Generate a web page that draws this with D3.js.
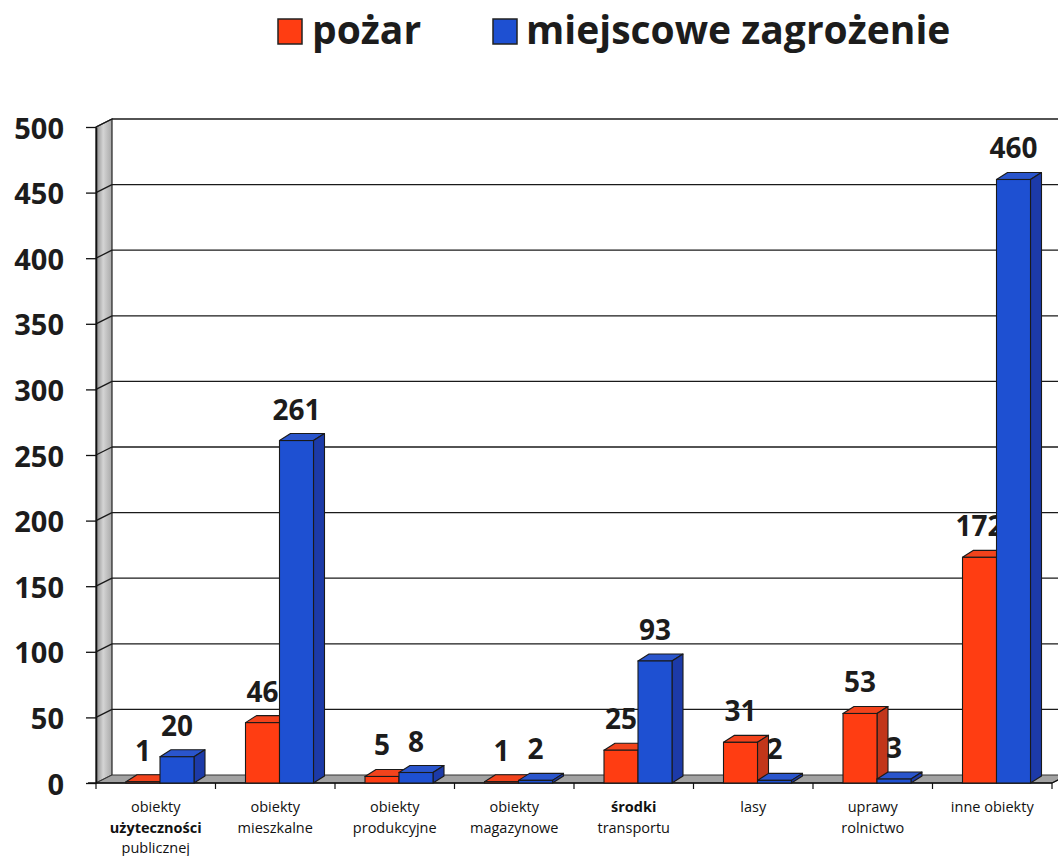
<!DOCTYPE html>
<html><head><meta charset="utf-8">
<script src="https://cdn.jsdelivr.net/npm/d3@7/dist/d3.min.js"></script>
<style>
html,body{margin:0;padding:0;background:#fff;}
svg{display:block;}
</style></head>
<body>
<svg id="chart" width="1058" height="856"></svg>
<script>
const categories = ["obiekty użyteczności publicznej","obiekty mieszkalne","obiekty produkcyjne","obiekty magazynowe","środki transportu","lasy","uprawy rolnictwo","inne obiekty"];
const categoryLines = [["obiekty","użyteczności","publicznej"],["obiekty","mieszkalne"],["obiekty","produkcyjne"],["obiekty","magazynowe"],["środki","transportu"],["lasy"],["uprawy","rolnictwo"],["inne obiekty"]];
const boldWords = ["użyteczności","środki"];
const seriesNames = ["pożar","miejscowe zagrożenie"];
const pozar = [1,46,5,1,25,31,53,172];
const zagrozenie = [20,261,8,2,93,2,3,460];
const yTicks = [0,50,100,150,200,250,300,350,400,450,500];

const colors = {
  "pożar": {front:"#ff3d12", top:"#f2431c", side:"#c2361a"},
  "miejscowe zagrożenie": {front:"#1e50d2", top:"#2a55cc", side:"#1c3aa8"}
};
const seriesValues = {"pożar": pozar, "miejscowe zagrożenie": zagrozenie};

const svg = d3.select("#chart");
const FONT = "'Open Sans', 'DejaVu Sans', sans-serif";
const TXT = "#1c1c1c";

const x0 = 96, x1p = 1052, yBase = 783, yTop = 127;
const wdx = 16, wdy = -8;   // wall depth
const bdx = 11, bdy = -7;   // bar depth

const x = d3.scaleBand().domain(categories).range([x0, x1p]).padding(0);
const xs = d3.scaleBand().domain(seriesNames).range([30, 98]).padding(0);
const y = d3.scaleLinear().domain([0, 500]).range([yBase, yTop]);

const defs = svg.append("defs");
const g1 = defs.append("linearGradient").attr("id","wallGrad").attr("x1","0").attr("x2","1").attr("y1","0").attr("y2","0");
g1.append("stop").attr("offset","0").attr("stop-color","#8c8c8c");
g1.append("stop").attr("offset","0.45").attr("stop-color","#d4d4d4");
g1.append("stop").attr("offset","1").attr("stop-color","#a8a8a8");

// left wall
svg.append("path")
  .attr("d", `M${x0},${y(500)}L${x0+wdx},${y(500)+wdy}L${x0+wdx},${y(0)+wdy}L${x0},${y(0)}Z`)
  .attr("fill","url(#wallGrad)").attr("stroke","#222").attr("stroke-width",1.2);

// floor
svg.append("path")
  .attr("d", `M${x0},${y(0)}L${x1p},${y(0)}L${x1p+wdx},${y(0)+wdy}L${x0+wdx},${y(0)+wdy}Z`)
  .attr("fill","#a2a2a2").attr("stroke","#333").attr("stroke-width",1);

// gridlines on back wall + left wall diagonals
const grid = svg.append("g");
yTicks.filter(v => v > 0).forEach(v => {
  grid.append("line").attr("x1", x0+wdx).attr("x2", 1070).attr("y1", y(v)+wdy).attr("y2", y(v)+wdy)
    .attr("stroke","#1a1a1a").attr("stroke-width",1.3);
  grid.append("line").attr("x1", x0).attr("x2", x0+wdx).attr("y1", y(v)).attr("y2", y(v)+wdy)
    .attr("stroke","#1a1a1a").attr("stroke-width",1.3);
});

// y axis
const yAxis = d3.axisLeft(y).tickValues(yTicks).tickSize(10).tickSizeOuter(0).tickPadding(22);
const ya = svg.append("g").attr("transform", `translate(${x0},0)`).call(yAxis);
ya.select(".domain").attr("stroke","#111").attr("stroke-width",1.6);
ya.selectAll(".tick line").attr("stroke","#111").attr("stroke-width",1.3);
ya.selectAll(".tick text").attr("font-family", FONT).attr("font-weight","bold")
  .attr("font-size", 29).attr("fill", TXT).attr("dy","0.38em");

// x axis line + ticks at category boundaries
const xa = svg.append("g");
xa.append("line").attr("x1", x0-8).attr("x2", x1p).attr("y1", yBase).attr("y2", yBase)
  .attr("stroke","#111").attr("stroke-width",1.6);
xa.append("line").attr("x1", x1p).attr("x2", x1p+wdx).attr("y1", yBase).attr("y2", yBase+wdy)
  .attr("stroke","#111").attr("stroke-width",1.3);
const edges = categories.map(c => x(c)).concat([x.range()[1]]);
xa.selectAll("line.tk").data(edges).enter().append("line").attr("class","tk")
  .attr("x1", d => d).attr("x2", d => d).attr("y1", yBase).attr("y2", yBase+6)
  .attr("stroke","#111").attr("stroke-width",1.2);

// category labels
categories.forEach((c, i) => {
  const t = xa.append("text").attr("x", x(c) + x.bandwidth()/2).attr("y", 812)
    .attr("text-anchor","middle").attr("font-family", FONT).attr("font-size", 14.5).attr("fill", "#111");
  categoryLines[i].forEach((line, j) => {
    t.append("tspan").attr("x", x(c) + x.bandwidth()/2).attr("dy", j === 0 ? 0 : 20.5)
      .attr("font-weight", boldWords.includes(line) ? "bold" : "normal").text(line);
  });
});

// bars, series by series (labels of a series drawn before next series' bars)
const barsG = svg.append("g");
seriesNames.forEach(s => {
  const vals = seriesValues[s];
  const col = colors[s];
  const sg = barsG.append("g");
  categories.forEach((c, i) => {
    const v = vals[i];
    const bx = x(c) + xs(s), bw = xs.bandwidth();
    const yt = y(v), yb = y(0);
    const bg = sg.append("g");
    bg.append("path").attr("d", `M${bx},${yt}L${bx+bdx},${yt+bdy}L${bx+bw+bdx},${yt+bdy}L${bx+bw},${yt}Z`)
      .attr("fill", col.top).attr("stroke","#1a1a1a").attr("stroke-width",1.1).attr("stroke-linejoin","round");
    bg.append("path").attr("d", `M${bx+bw},${yt}L${bx+bw+bdx},${yt+bdy}L${bx+bw+bdx},${yb+bdy}L${bx+bw},${yb}Z`)
      .attr("fill", col.side).attr("stroke","#1a1a1a").attr("stroke-width",1.1).attr("stroke-linejoin","round");
    bg.append("rect").attr("x", bx).attr("y", yt).attr("width", bw).attr("height", Math.max(0, yb-yt))
      .attr("fill", col.front).attr("stroke","#1a1a1a").attr("stroke-width",1.1);
  });
  categories.forEach((c, i) => {
    const v = vals[i];
    sg.append("text").attr("x", x(c) + xs(s) + xs.bandwidth()/2).attr("y", y(v) - 21)
      .attr("text-anchor","middle").attr("font-family", FONT).attr("font-weight","bold")
      .attr("font-size", 28).attr("fill", TXT).text(v);
  });
});

// legend
const legend = svg.append("g");
const legendPos = [{sx: 278, tx: 312}, {sx: 493, tx: 526}];
seriesNames.forEach((s, i) => {
  legend.append("rect").attr("x", legendPos[i].sx).attr("y", 19).attr("width", 24).attr("height", 25)
    .attr("fill", colors[s].front).attr("stroke","#222").attr("stroke-width",1.5);
  legend.append("text").attr("x", legendPos[i].tx).attr("y", 44).attr("font-family", FONT)
    .attr("font-weight","bold").attr("font-size", 39).attr("fill", TXT).text(s);
});
</script>
</body></html>
